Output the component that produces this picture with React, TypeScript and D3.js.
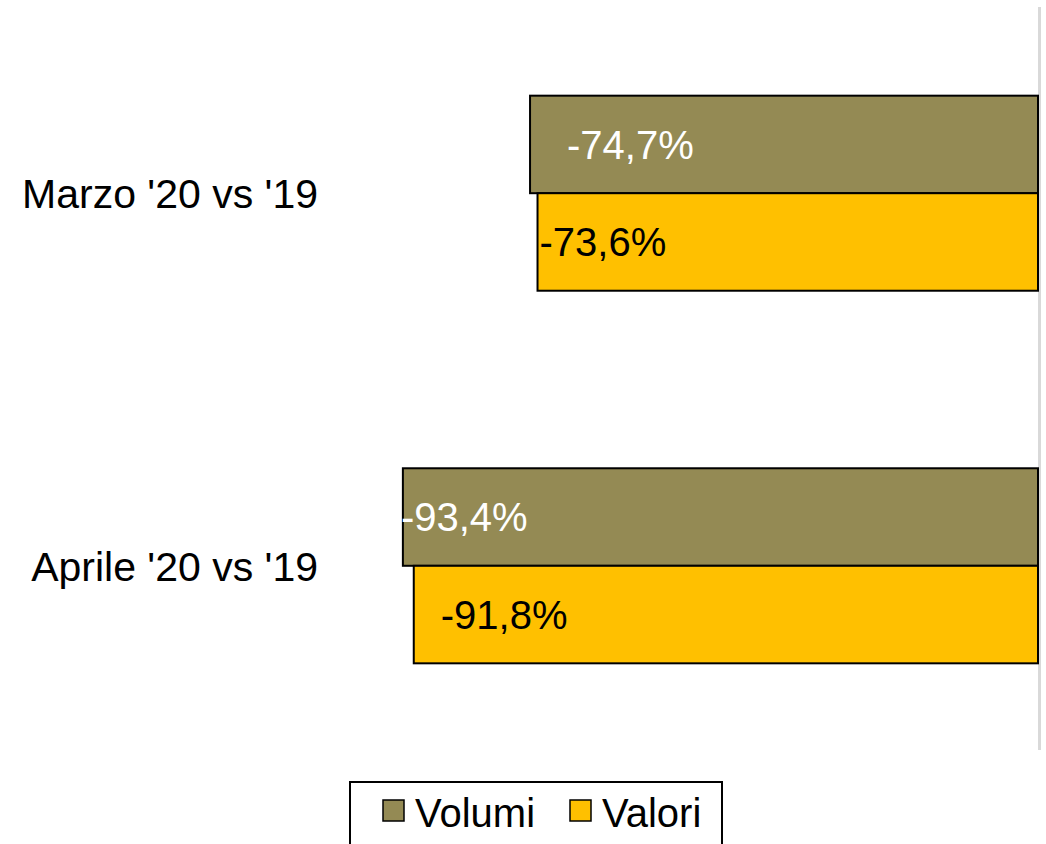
import React, { useEffect, useRef } from "react";
import * as d3 from "d3";

const categories = ["Marzo '20 vs '19", "Aprile '20 vs '19"];
const seriesNames = ["Volumi", "Valori"];
const volumi = [-74.7, -93.4];
const valori = [-73.6, -91.8];
const colors = ["#948A54", "#FFC000"];
const labelColors = ["#ffffff", "#000000"];
// nudges for the data labels, measured from the left end of each bar
const labelNudge = [
  [37, -2],
  [2, 27],
];

export default function App() {
  const ref = useRef<SVGSVGElement>(null);

  useEffect(() => {
    draw();
  }, []);

  let draw = () => {
    let svg = d3.select(ref.current);
    svg.selectAll("*").remove();

    let font = "'Liberation Sans', Arial, sans-serif";
    let series = [volumi, valori];
    let locale = d3.formatLocale({
      decimal: ",",
      thousands: ".",
      grouping: [3],
      currency: ["", "€"],
      minus: "-",
    });
    let fmt = locale.format(".1f");

    let x = d3.scaleLinear().domain([-100, 0]).range([358, 1038]);
    let y = d3
      .scaleBand()
      .domain(categories)
      .range([7, 752])
      .paddingInner(0.4765)
      .paddingOuter(0.238);
    let ySub = d3
      .scaleBand()
      .domain(seriesNames)
      .range([0, y.bandwidth()]);

    // zero axis line
    svg
      .append("line")
      .attr("x1", 1039.5)
      .attr("x2", 1039.5)
      .attr("y1", 7)
      .attr("y2", 750)
      .attr("stroke", "#d9d9d9")
      .attr("stroke-width", 3);

    seriesNames.forEach((name, si) => {
      let g = svg.append("g");
      g.selectAll("rect")
        .data(series[si])
        .enter()
        .append("rect")
        .attr("x", (d) => x(d))
        .attr("y", (d, i) => y(categories[i])! + ySub(name)!)
        .attr("width", (d) => x(0) - x(d))
        .attr("height", ySub.bandwidth())
        .attr("fill", colors[si])
        .attr("stroke", "#000")
        .attr("stroke-width", 2);

      g.selectAll("text")
        .data(series[si])
        .enter()
        .append("text")
        .attr("x", (d, i) => x(d) + labelNudge[si][i])
        .attr("y", (d, i) => y(categories[i])! + ySub(name)! + ySub.bandwidth() / 2)
        .attr("dy", "0.36em")
        .attr("fill", labelColors[si])
        .attr("font-family", font)
        .attr("font-size", 40)
        .text((d) => fmt(d) + "%");
    });

    // category labels
    svg
      .append("g")
      .selectAll("text")
      .data(categories)
      .enter()
      .append("text")
      .attr("x", 318)
      .attr("y", (d) => y(d)! + y.bandwidth() / 2)
      .attr("dy", "0.36em")
      .attr("text-anchor", "end")
      .attr("font-family", font)
      .attr("font-size", 41)
      .attr("fill", "#000")
      .text((d) => d);

    // legend
    let legend = svg.append("g");
    legend
      .append("rect")
      .attr("x", 350)
      .attr("y", 782)
      .attr("width", 372)
      .attr("height", 80)
      .attr("fill", "#fff")
      .attr("stroke", "#000")
      .attr("stroke-width", 2);
    let legendX = [383, 570];
    seriesNames.forEach((name, si) => {
      legend
        .append("rect")
        .attr("x", legendX[si])
        .attr("y", 800)
        .attr("width", 21)
        .attr("height", 21)
        .attr("fill", colors[si])
        .attr("stroke", "#000")
        .attr("stroke-width", 1.5);
      legend
        .append("text")
        .attr("x", legendX[si] + 32)
        .attr("y", 813)
        .attr("dy", "0.36em")
        .attr("font-family", font)
        .attr("font-size", 40)
        .attr("fill", "#000")
        .text(name);
    });
  };

  return (
    <svg
      ref={ref}
      width={1046}
      height={844}
      style={{ position: "absolute", left: 0, top: 0, background: "#fff" }}
    ></svg>
  );
}
